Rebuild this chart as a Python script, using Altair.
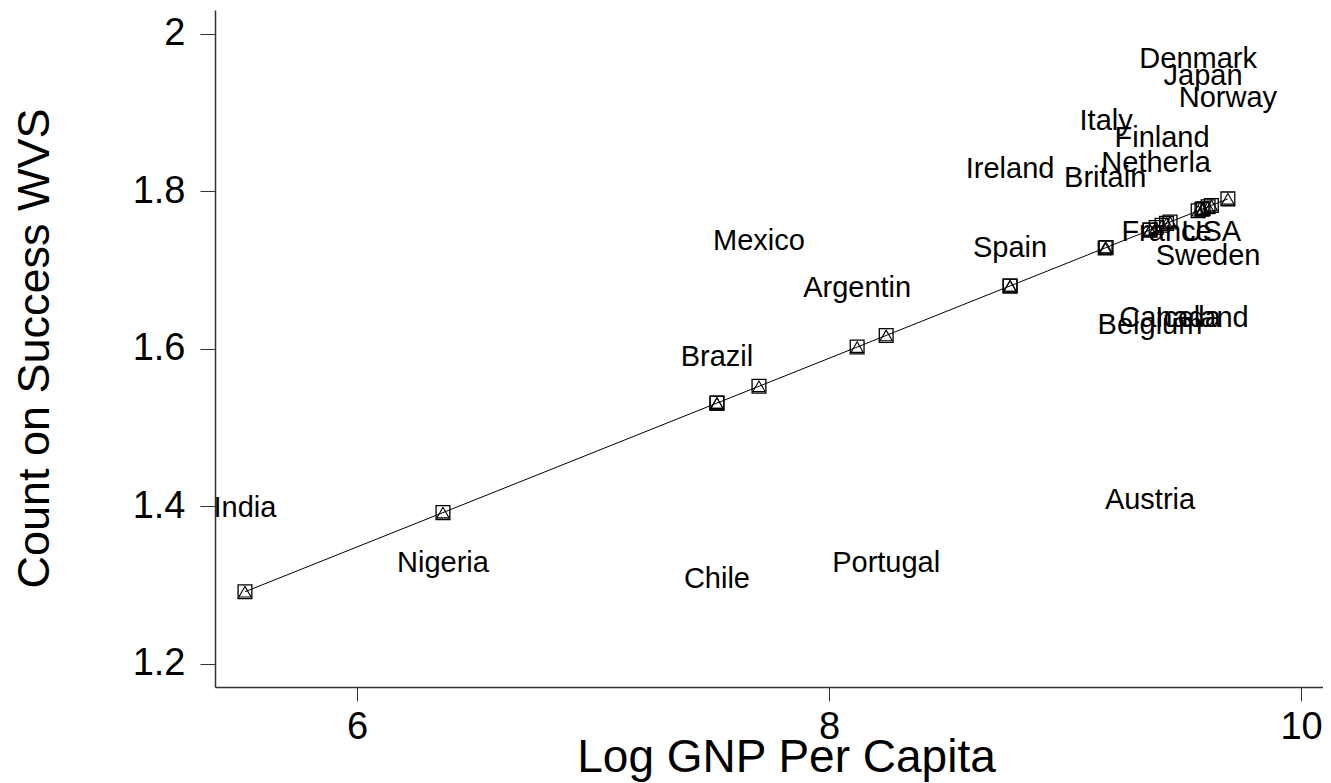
import altair as alt
import pandas as pd

countries = ["India", "Nigeria", "Brazil", "Chile", "Mexico", "Argentin", "Portugal",
             "Ireland", "Spain", "Italy", "Britain", "Austria", "Belgium", "Netherla",
             "Finland", "France", "Canada", "Denmark", "Iceland", "Japan", "Sweden",
             "USA", "Norway"]
log_gnp = [5.525, 6.364, 7.525, 7.525, 7.703, 8.119, 8.242,
           8.767, 8.767, 9.174, 9.170, 9.360, 9.360, 9.386,
           9.411, 9.430, 9.445, 9.564, 9.580, 9.585, 9.606,
           9.620, 9.690]
count_success = [1.392, 1.322, 1.583, 1.301, 1.730, 1.671, 1.322,
                 1.822, 1.722, 1.883, 1.810, 1.402, 1.624, 1.829,
                 1.861, 1.742, 1.633, 1.962, 1.633, 1.940, 1.711,
                 1.742, 1.912]

y_ticks = [1.2, 1.4, 1.6, 1.8, 2.0]
x_ticks = [6, 8, 10]

df = pd.DataFrame({"country": countries, "x": log_gnp, "y": count_success})

FONT = "Liberation Sans"

xscale = alt.Scale(domain=[5.398, 10.093], nice=False, zero=False)
yscale = alt.Scale(domain=[1.1708, 2.03], nice=False, zero=False)

xaxis = alt.Axis(values=x_ticks, format="d", title="Log GNP Per Capita", grid=False,
                 tickSize=14, labelPadding=7, labelFontSize=38, labelFont=FONT,
                 titleFontSize=46, titleFont=FONT, titleFontWeight="normal",
                 titleX=571, titleY=84, titleBaseline="alphabetic", titleAlign="center",
                 labelColor="black", titleColor="black", domainColor="#333",
                 tickColor="#333", domainWidth=1.5, labelFlush=False)
yaxis = alt.Axis(values=y_ticks, format="~g", title="Count on Success WVS", grid=False,
                 tickSize=15, labelPadding=15, labelFontSize=38, labelFont=FONT,
                 titleFontSize=45, titleFont=FONT, titleFontWeight="normal",
                 titleX=-167, titleY=338, titleBaseline="alphabetic", titleAngle=-90,
                 titleAlign="center",
                 labelColor="black", titleColor="black", domainColor="#333",
                 tickColor="#333", domainWidth=1.5, labelFlush=False)

base = alt.Chart(df)

labels = base.mark_text(font=FONT, fontSize=29, color="black", align="center",
                        baseline="middle", dy=-5).encode(
    x=alt.X("x:Q", scale=xscale, axis=xaxis),
    y=alt.Y("y:Q", scale=yscale, axis=yaxis),
    text="country:N",
)

fit = (base
       .transform_joinaggregate(mx="mean(x)", my="mean(y)")
       .transform_calculate(dxy="(datum.x-datum.mx)*(datum.y-datum.my)",
                            dxx="(datum.x-datum.mx)*(datum.x-datum.mx)")
       .transform_joinaggregate(sxy="sum(dxy)", sxx="sum(dxx)")
       .transform_calculate(fitted="datum.my + datum.sxy/datum.sxx*(datum.x-datum.mx)"))

line = fit.mark_line(color="black", strokeWidth=1).encode(
    x=alt.X("x:Q", scale=xscale), y=alt.Y("fitted:Q", scale=yscale), order="x:Q")
squares = fit.mark_point(shape="square", size=190, filled=False, color="black",
                         strokeWidth=1.3, opacity=1).encode(
    x=alt.X("x:Q", scale=xscale), y=alt.Y("fitted:Q", scale=yscale))
triangles = fit.mark_point(shape="triangle-up", size=150, filled=False, color="black",
                           strokeWidth=1.1, opacity=1).encode(
    x=alt.X("x:Q", scale=xscale), y=alt.Y("fitted:Q", scale=yscale))

chart = alt.layer(labels, line, squares, triangles).properties(
    width=1108, height=677,
    autosize=alt.AutoSizeParams(type="none"),
    padding={"left": 207, "top": 2, "right": 0, "bottom": 96},
    background="white",
).configure_view(stroke=None)

chart.save("out.html", embed_options={"renderer": "svg", "actions": False})
